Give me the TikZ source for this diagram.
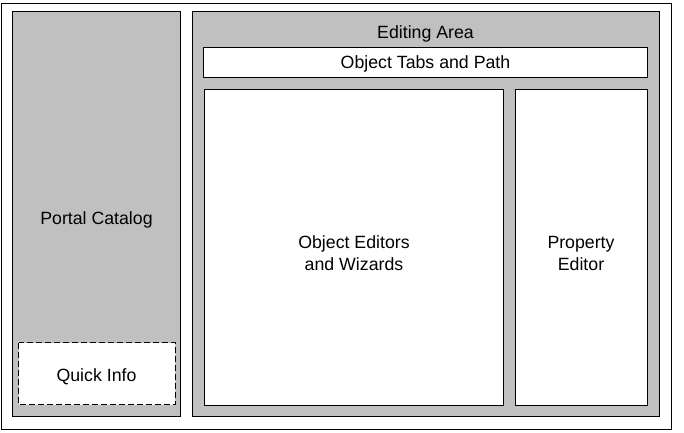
\documentclass[tikz,border=0pt]{standalone}
\usepackage{fontspec}
\setmainfont{Liberation Sans}
\definecolor{panelgray}{HTML}{C0C0C0}
\tikzset{
  px/.style={x=0.75pt,y=-0.75pt},
  frame/.style={draw=black,line width=0.75pt},
  panel/.style={frame,fill=panelgray},
  whitebox/.style={frame,fill=white},
  quickbox/.style={draw=black,line width=0.75pt,fill=white,dash pattern=on 4.5pt off 2.25pt},
  lbl/.style={font=\fontsize{13.3}{16.5}\selectfont,align=center,inner sep=0pt},
}
\begin{document}
\begin{tikzpicture}[px]
\useasboundingbox (0,0) rectangle (684,432);
\fill[white] (0,0) rectangle (684,432);
\draw[frame] (1.5,3.5) rectangle (671.5,429) coordinate (outerse);
\draw[panel] (12.5,11.5) coordinate (catnw) rectangle (180.5,416.5) coordinate (catse);
\draw[quickbox] (18.5,342.5) coordinate (qinw) rectangle (175,404.5) coordinate (qise);
\draw[panel] (192.5,11.5) coordinate (edanw) rectangle (659,416.5) coordinate (edase);
\draw[whitebox] (203.5,47.5) coordinate (tabnw) rectangle (647,77) coordinate (tabse);
\draw[whitebox] (204,89.5) coordinate (objnw) rectangle (503.5,405) coordinate (objse);
\draw[whitebox] (515,89.5) coordinate (propnw) rectangle (647,405) coordinate (propse);
\node[lbl] (cat) at (96.5,219.5) {Portal Catalog};
\node[lbl] (qi) at (96.5,376.5) {Quick Info};
\node[lbl] (eda) at (425.5,34) {Editing Area};
\node[lbl] (tab) at (425.5,63.5) {Object Tabs and Path};
\node[lbl] (obj) at (354,253) {Object Editors\\and Wizards};
\node[lbl] (prop) at (581,253) {Property\\Editor};
\end{tikzpicture}
\end{document}
